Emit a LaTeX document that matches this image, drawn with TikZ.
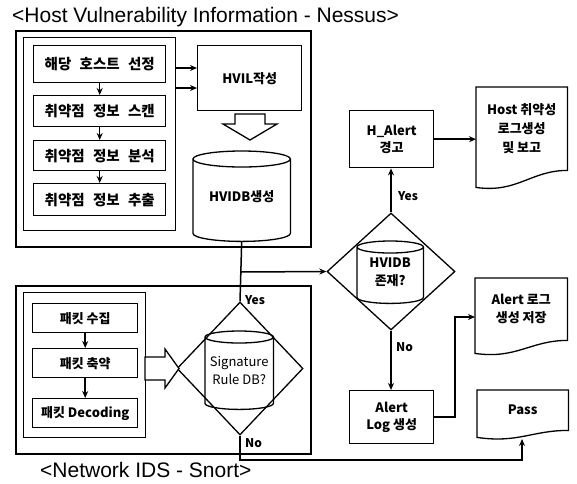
\documentclass[tikz,border=0pt]{standalone}
\usepackage{fontspec}
\setmainfont{Noto Sans CJK KR}
\newfontfamily\titlefont{Liberation Sans}
\usetikzlibrary{arrows.meta,shapes.geometric,calc}

% cylinder drawn around a (borderless) node; #2 = half height of the ellipse
\newcommand\cylshape[2]{%
  \draw[cyl] let \p1=(#1.north west), \p2=(#1.north east), \n1={(\x2-\x1)/2} in
    ($(#1.north west)+(0,#2)$) -- ($(#1.south west)-(0,#2)$)
    arc[start angle=180, end angle=360, x radius=\n1, y radius=#2pt]
    -- ($(#1.north east)+(0,#2)$)
    ($(#1.north)+(0,#2)$) ellipse[x radius=\n1, y radius=#2pt];}

% document shape with a wavy bottom; #2 = extra drop of the left corner
\newcommand\docshape[2]{%
  \draw[docline] (#1.north west) -- (#1.north east) -- (#1.south east)
    .. controls ($(#1.south east)!0.4!(#1.south west)$)
    and ($(#1.south west)!0.45!(#1.south east)+(0,#2+6)$)
    .. ($(#1.south west)+(0,#2)$) -- cycle;}

\begin{document}
\begin{tikzpicture}[x=1pt,y=-1pt,
  frame/.style={draw, line width=1.7pt, anchor=north west, inner sep=0pt},
  stepbox/.style={draw, line width=1.4pt, anchor=north west, inner sep=0pt,
    font=\bfseries\fontsize{14.5}{16}\selectfont},
  nstep/.style={stepbox, font=\bfseries\fontsize{13}{15}\selectfont},
  box/.style={draw, line width=1.4pt, anchor=north west, inner sep=0pt,
    align=center, font=\bfseries\fontsize{13}{17}\selectfont},
  txt/.style={inner sep=0pt, align=center, font=\bfseries\fontsize{13}{18}\selectfont},
  cyl/.style={line width=1.3pt},
  docline/.style={line width=1.3pt},
  dia/.style={diamond, draw, line width=1.3pt, inner sep=0pt},
  blockarrow/.style={draw, line width=1.3pt, fill=white, line join=miter},
  conn/.style={line width=1.5pt},
  arr/.style={conn, -{Stealth[length=7pt,width=6pt]}},
  yn/.style={inner sep=0pt, font=\bfseries\fontsize{12}{14}\selectfont},
  ttl/.style={anchor=west, inner sep=0pt, font=\titlefont\fontsize{21}{23}\selectfont}
]
\useasboundingbox (0,0) rectangle (577,483);

% ---------- host vulnerability part ----------
\node[ttl] (toptitle) at (12,17) {<Host Vulnerability Information - Nessus>};
\node[frame, minimum width=295pt, minimum height=216pt] (hostframe) at (15,30) {};
\node[frame, line width=1.4pt, minimum width=152pt, minimum height=193pt] (hinner) at (23,37) {};

\node[stepbox, minimum width=132pt, minimum height=37pt] (h1) at (33,45) {해당\hspace{5pt} 호스트\hspace{5pt} 선정};
\node[stepbox, minimum width=132pt, minimum height=31pt] (h2) at (33,95) {취약점\hspace{5pt} 정보\hspace{5pt} 스캔};
\node[stepbox, minimum width=132pt, minimum height=30pt] (h3) at (33,140) {취약점\hspace{5pt} 정보\hspace{5pt} 분석};
\node[stepbox, minimum width=132pt, minimum height=32pt] (h4) at (33,183) {취약점\hspace{5pt} 정보\hspace{5pt} 추출};
\draw[arr] (h1) -- (h2);
\draw[arr] (h2) -- (h3);
\draw[arr] (h3) -- (h4);

\node[box, minimum width=104pt, minimum height=65pt] (hvil) at (197,45) {HVIL작성};
\draw[arr] (hinner.east |- 0,68) -- (hvil.west |- 0,68);
\draw[arr] (hinner.east |- 0,88) -- (hvil.west |- 0,88);

\draw[blockarrow] (235,114) -- (265,114) -- (265,124) -- (277,124) -- (250,140)
  -- (223,124) -- (235,124) -- cycle;

\node[txt, anchor=north west, minimum width=97pt, minimum height=90pt] (hvidb) at (193,151) {HVIDB생성};
\cylshape{hvidb}{8}

% ---------- network IDS part ----------
\node[frame, minimum width=295pt, minimum height=168pt] (nidsframe) at (15,285) {};
\node[frame, line width=1.4pt, minimum width=122pt, minimum height=145pt] (ninner) at (23,292) {};
\node[nstep, minimum width=105pt, minimum height=29pt] (n1) at (32,303) {패킷 수집};
\node[nstep, minimum width=105pt, minimum height=29pt] (n2) at (32,348) {패킷 축약};
\node[nstep, minimum width=105pt, minimum height=29pt] (n3) at (32,398) {패킷 Decoding};
\draw[arr] (n1) -- (n2);
\draw[arr] (n2) -- (n3);
\node[ttl] (bottitle) at (40,470) {<Network IDS - Snort>};

\node[dia, minimum width=126pt, minimum height=133pt] (sig) at (240,368.5) {};
\node[txt, anchor=north west, minimum width=68pt, minimum height=78pt,
  font=\fontsize{13}{18}\selectfont] (sigdb) at (205,331) {Signature\\Rule DB?};
\cylshape{sigdb}{6}
\draw[blockarrow] (145,357) -- (165,357) -- (165,349) -- (179,368.5) -- (165,388)
  -- (165,380) -- (145,380) -- cycle;

% ---------- decision and alert part ----------
\coordinate (join) at (240,272);
\draw[conn] (sig.north) -- (hvidb.south);
\node[yn, anchor=west] at (245,300) {Yes};

\node[dia, minimum width=128pt, minimum height=117pt] (hdia) at (391,271.5) {};
\node[txt, anchor=north west, minimum width=66pt, minimum height=62pt] (hvidbq) at (357,241) {HVIDB\\존재?};
\cylshape{hvidbq}{6}
\draw[arr] (join) -- (hdia.west);

\node[box, minimum width=84pt, minimum height=57pt] (halert) at (349,110) {H\_Alert\\경고};
\draw[arr] (hdia.north) -- (halert.south -| hdia.north);
\node[yn, anchor=west] at (398,196) {Yes};

\node[txt, anchor=north west, minimum width=91pt, minimum height=83pt,
  font=\bfseries\fontsize{13}{19}\selectfont] (hostdoc) at (476,87) {Host 취약성\\로그생성\\및 보고};
\docshape{hostdoc}{17}
\draw[arr] (halert.east) -- (halert.east -| hostdoc.west);

\node[box, minimum width=84pt, minimum height=53pt] (alertlog) at (349,390) {Alert\\Log 생성};
\draw[arr] (hdia.south) -- (alertlog.north -| hdia.south);
\node[yn, anchor=west] at (396,347) {No};

\node[txt, anchor=north west, minimum width=92pt, minimum height=62pt] (alertdoc) at (475,278) {Alert 로그\\생성 저장};
\docshape{alertdoc}{13}
\draw[arr] (alertlog.east) -| (455,317) -- (alertdoc.west |- 0,317);

\node[txt, anchor=north west, minimum width=91pt, minimum height=40pt] (passdoc) at (477,390) {Pass};
\docshape{passdoc}{7}
\coordinate (nocorner) at (240,460);
\draw[arr] (sig.south) -- (nocorner) -- (522,460) -- (522,439);
\node[yn, anchor=west] at (245,443) {No};
\end{tikzpicture}
\end{document}
